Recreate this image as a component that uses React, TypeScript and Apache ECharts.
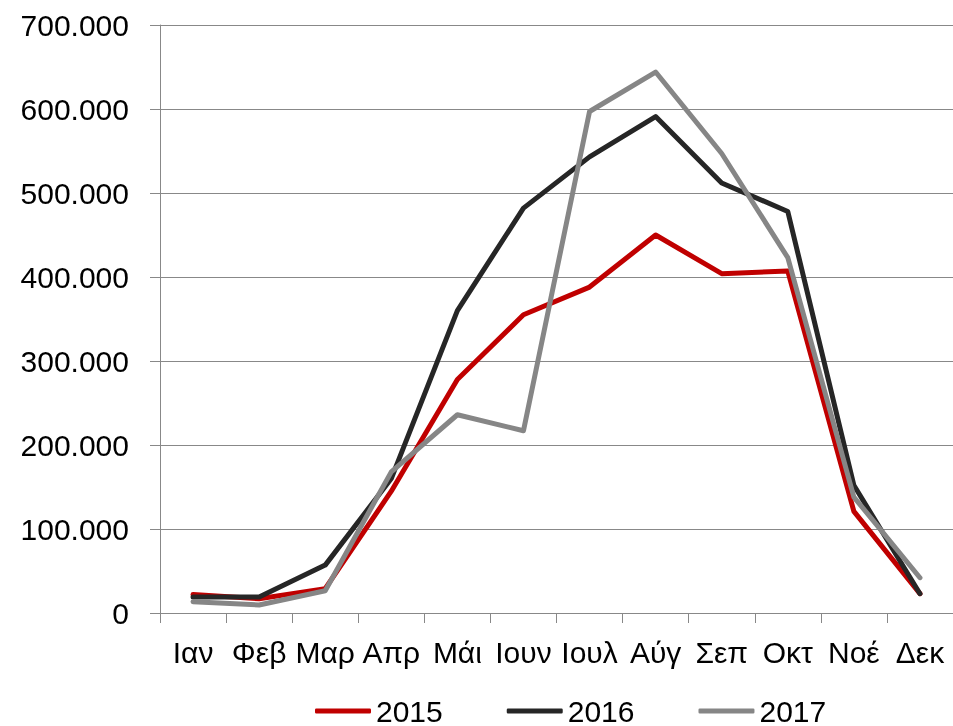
import React, { useEffect, useRef } from "react";
import * as echarts from "echarts";

const months = ["Ιαν", "Φεβ", "Μαρ", "Απρ", "Μάι", "Ιουν", "Ιουλ", "Αύγ", "Σεπ", "Οκτ", "Νοέ", "Δεκ"];
const seriesNames = ["2015", "2016", "2017"];
const values2015 = [22000, 17000, 29000, 145000, 278000, 355000, 388000, 450000, 404000, 407000, 121000, 23000];
const values2016 = [19000, 19000, 57000, 160000, 360000, 482000, 543000, 591000, 512000, 478000, 152000, 23000];
const values2017 = [13500, 9500, 26500, 168000, 236000, 217000, 597000, 644000, 547000, 423000, 138000, 42000];
const colors = ["#C00000", "#262626", "#868686"];

const fmt = (v: number) => (v === 0 ? "0" : String(v).replace(/\B(?=(\d{3})+(?!\d))/g, "."));

export default function App() {
  const ref = useRef<HTMLDivElement>(null);
  useEffect(() => {
    if (!ref.current) return;
    const chart = echarts.init(ref.current, null, { renderer: "svg" });
    const font = "'Liberation Sans', Arial, sans-serif";
    const data = [values2015, values2016, values2017];
    chart.setOption({
      animation: false,
      textStyle: { fontFamily: font },
      grid: { left: 160, top: 25, right: -9, bottom: 113, containLabel: false },
      legend: {
        left: 315,
        top: 696,
        padding: 0,
        itemWidth: 56,
        itemHeight: 5,
        itemGap: 64,
        icon: "roundRect",
        textStyle: { fontSize: 30, color: "#000", fontFamily: font },
        data: seriesNames,
      },
      xAxis: {
        type: "category",
        data: months,
        boundaryGap: true,
        axisLine: { lineStyle: { color: "#888", width: 1 } },
        axisTick: { show: true, length: 10, inside: false, lineStyle: { color: "#888" } },
        axisLabel: { fontSize: 30, color: "#000", margin: 24, fontFamily: font, interval: 0 },
      },
      yAxis: {
        type: "value",
        min: 0,
        max: 700000,
        interval: 100000,
        axisLine: { show: true, lineStyle: { color: "#888", width: 1 } },
        axisTick: { show: true, length: 10, lineStyle: { color: "#888" } },
        splitLine: { lineStyle: { color: "#888", width: 1 } },
        axisLabel: { fontSize: 30, color: "#000", margin: 31, fontFamily: font, formatter: fmt },
      },
      series: seriesNames.map((name, i) => ({
        name,
        type: "line",
        data: data[i],
        symbol: "none",
        lineStyle: { color: colors[i], width: 5, cap: "round", join: "round" },
        itemStyle: { color: colors[i] },
        z: 2 + i,
      })),
    });
    return () => chart.dispose();
  }, []);
  return <div ref={ref} style={{ position: "fixed", left: 0, top: 0, width: 953, height: 726 }} />;
}
